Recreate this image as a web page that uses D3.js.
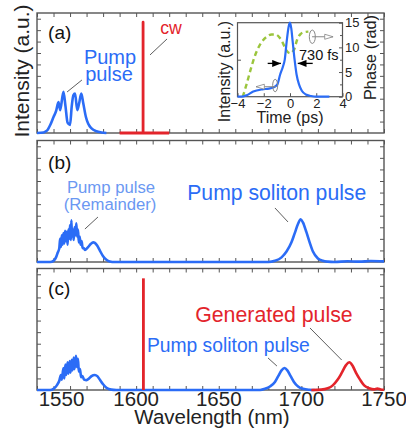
<!DOCTYPE html>
<html>
<head>
<meta charset="utf-8">
<script src="https://cdn.jsdelivr.net/npm/d3@7"></script>
<style>
body { margin: 0; background: #fff; }
svg text { font-family: "Liberation Sans", Arial, sans-serif; }
</style>
</head>
<body>
<div id="chart"></div>
<script>
// ---- data: wavelength (nm) and intensity (a.u.) ----
var aPumpWl = [1540, 1544, 1546, 1548, 1550, 1551.5, 1553, 1554, 1556, 1557.2, 1558.5, 1560, 1561, 1562, 1563, 1564.4, 1565.5, 1566.8, 1568, 1569.6, 1571, 1573, 1576, 1579, 1582];
var aPumpI  = [0, 0.05, 0.2, 0.7, 1.4, 1.9, 2.7, 2.0, 3.6, 2.4, 0.9, 0.7, 2.3, 3.3, 3.45, 2.0, 2.6, 3.45, 2.6, 1.4, 0.8, 0.4, 0.15, 0.05, 0];
var aCwWl = [1590, 1604.2, 1604.2, 1604.2, 1620];
var aCwI  = [0, 0, 9.7, 0, 0];

var bPumpWl = [1540, 1548, 1550, 1551.5, 1552.5, 1553.5, 1554, 1554.5, 1555, 1555.5, 1556, 1556.5, 1557, 1557.5, 1558, 1558.5, 1559, 1559.5, 1560, 1560.5, 1560.8, 1561.2, 1561.7, 1562.2, 1562.7, 1563.2, 1563.8, 1564.3, 1564.8, 1565.3, 1565.8, 1566.4, 1567, 1567.6, 1568.3, 1569, 1570, 1571, 1572.5, 1574, 1575, 1576.5, 1578, 1580, 1582, 1584, 1587,
               1680, 1684, 1688, 1691, 1694, 1696, 1698, 1699.6, 1701, 1703, 1705, 1707, 1710, 1713, 1716, 1720, 1728, 1735, 1742, 1750];
var bPumpI  = [0, 0, 0.1, 0.4, 0.8, 1.2, 2.0, 1.3, 2.3, 1.5, 2.5, 1.6, 2.7, 1.8, 2.6, 1.5, 2.8, 2.0, 3.2, 1.9, 3.6, 2.2, 2.8, 1.9, 3.0, 2.3, 3.35, 2.2, 2.8, 1.7, 2.2, 1.5, 1.8, 1.2, 1.2, 1.05, 1.15, 1.3, 1.55, 1.7, 1.65, 1.4, 1.0, 0.5, 0.2, 0.05, 0,
               0, 0.1, 0.4, 0.9, 1.7, 2.5, 3.3, 3.7, 3.4, 2.6, 1.7, 0.9, 0.3, 0.1, 0.03, 0, 0.06, 0.03, 0.08, 0.05];

var cPumpWl = [1540, 1548, 1550, 1552, 1553.5, 1554.5, 1555, 1556, 1556.5, 1557.2, 1557.7, 1558.5, 1559, 1559.8, 1560.3, 1561, 1561.5, 1562.2, 1562.7, 1563.6, 1564.1, 1564.8, 1565.3, 1566, 1566.7, 1567.5, 1568.5, 1570, 1571.5, 1573, 1575, 1576.5, 1578, 1580, 1582, 1585, 1588,
               1675, 1678, 1681, 1684, 1686, 1688, 1689.8, 1691.5, 1693.5, 1695.5, 1698, 1701, 1705, 1708];
var cPumpI  = [0, 0, 0.1, 0.4, 0.8, 1.3, 0.9, 1.9, 1.0, 2.2, 1.3, 2.4, 1.4, 2.5, 1.5, 2.6, 1.7, 2.8, 1.8, 2.95, 2.0, 2.7, 1.6, 1.8, 1.1, 1.2, 0.9, 0.85, 1.0, 1.2, 1.3, 1.2, 0.9, 0.5, 0.2, 0.03, 0,
               0, 0.1, 0.3, 0.7, 1.2, 1.7, 1.9, 1.7, 1.2, 0.7, 0.3, 0.1, 0.02, 0];
var cCwWl = [1604.4, 1604.4];
var cCwI  = [0, 9.65];
var cGenWl = [1706, 1712, 1716, 1719, 1722, 1724.5, 1727, 1729, 1731, 1733, 1735.5, 1738, 1741, 1744, 1746, 1748, 1750];
var cGenI  = [0, 0.03, 0.15, 0.4, 0.9, 1.5, 2.15, 2.4, 2.1, 1.5, 0.9, 0.4, 0.15, 0.05, 0.12, 0.05, 0.02];

// inset: time (ps), normalised intensity and phase (rad)
var insetT   = [-4, -3.7, -3.3, -2.8, -2.1, -1.6, -1.2, -0.95, -0.75, -0.55, -0.4, -0.25, -0.1, 0, 0.1, 0.2, 0.35, 0.5, 0.7, 0.9, 1.2, 1.6, 2, 3];
var insetInt = [0, 0, 0.02, 0.07, 0.1, 0.11, 0.13, 0.17, 0.3, 0.4, 0.5, 0.75, 0.95, 1.0, 0.92, 0.75, 0.5, 0.3, 0.16, 0.08, 0.03, 0.01, 0, 0];
var phaseT   = [-3.6, -3.3, -3.0, -2.6, -2.2, -1.8, -1.4, -1.1, -0.8, -0.55, -0.3, 0, 0.3, 0.55, 0.8, 1.1, 1.4];
var phaseRad = [0, 2.6, 5.5, 8.8, 10.9, 12.1, 12.6, 12.6, 12.0, 10.9, 9.5, 8.8, 9.5, 11.6, 12.7, 13.1, 13.2];

var wlLabels = [1550, 1600, 1650, 1700, 1750];
var wlMinor = d3.range(1540, 1751, 10);
var timeTicks = [-4, -2, 0, 2, 4];
var phaseTicks = [0, 5, 10, 15];

var blue = "#2b6cf6", lightBlue = "#6b98f2", red = "#e3242b", green = "#9bc53d", frame = "#555";

var svg = d3.select("#chart").append("svg")
        .attr("width", 406)
        .attr("height", 429);

var defs = svg.append("defs");
defs.append("marker").attr("id", "blackHead")
        .attr("viewBox", "0 0 10 8").attr("refX", 10).attr("refY", 4)
        .attr("markerUnits", "userSpaceOnUse").attr("markerWidth", 9).attr("markerHeight", 7)
        .attr("orient", "auto")
        .append("path").attr("d", "M0,0L10,4L0,8Z").attr("fill", "#000");
defs.append("marker").attr("id", "grayHead")
        .attr("viewBox", "0 0 12 8").attr("refX", 11).attr("refY", 4)
        .attr("markerUnits", "userSpaceOnUse").attr("markerWidth", 10).attr("markerHeight", 7)
        .attr("orient", "auto")
        .append("path").attr("d", "M1,1L11,4L1,7Z").attr("fill", "#fff").attr("stroke", "#888").attr("stroke-width", 1);

var x = d3.scaleLinear().domain([1540, 1750]).range([37, 384]);

var panels = [
    {top: 13, bottom: 133, label: "(a)",
        series: [{wl: aPumpWl, v: aPumpI, color: blue, smooth: true}, {wl: aCwWl, v: aCwI, color: red, smooth: false}],
        texts: [{t: "(a)", wl: 1546.7, v: 8.2, size: 19, color: "#111", anchor: "start"},
                {t: "Pump", wl: 1584.2, v: 6.05, size: 20, color: blue},
                {t: "pulse", wl: 1583.6, v: 4.55, size: 20, color: blue},
                {t: "cw", wl: 1621.1, v: 8.64, size: 17.7, color: red}],
        leaders: [[1558.2, 3.59, 1567.2, 4.64], [1608.4, 6.83, 1618.7, 8.23]]},
    {top: 140.5, bottom: 262, label: "(b)",
        series: [{wl: bPumpWl, v: bPumpI, color: blue, smooth: true}],
        texts: [{t: "(b)", wl: 1546.7, v: 8.0, size: 19, color: "#111", anchor: "start"},
                {t: "Pump pulse", wl: 1584.8, v: 5.99, size: 16.7, color: lightBlue},
                {t: "(Remainder)", wl: 1584.2, v: 4.49, size: 16.7, color: lightBlue},
                {t: "Pump soliton pulse", wl: 1685.1, v: 5.36, size: 21.2, color: blue}],
        leaders: [[1569.0, 2.85, 1576.9, 3.89], [1684.0, 4.67, 1691.9, 3.46]]},
    {top: 268.5, bottom: 390, label: "(c)",
        series: [{wl: cPumpWl, v: cPumpI, color: blue, smooth: true}, {wl: cGenWl, v: cGenI, color: red, smooth: true}, {wl: cCwWl, v: cCwI, color: red, smooth: false}],
        texts: [{t: "(c)", wl: 1546.7, v: 8.25, size: 19, color: "#111", anchor: "start"},
                {t: "Generated pulse", wl: 1683.4, v: 5.85, size: 21.3, color: red},
                {t: "Pump soliton pulse", wl: 1655.8, v: 3.31, size: 19.3, color: blue}],
        leaders: [[1705.2, 5.36, 1724.4, 2.59], [1679.8, 2.77, 1685.2, 2.07]]}
];

function styleAxis(g) {
    g.select(".domain").remove();
    g.selectAll(".tick line").attr("stroke", frame).attr("stroke-width", 1);
}

panels.forEach(function (p) {
    var y = d3.scaleLinear().domain([0, 10.5]).range([p.bottom, p.top]);
    var g = svg.append("g");

    g.append("rect")
            .attr("x", x.range()[0]).attr("y", p.top)
            .attr("width", x.range()[1] - x.range()[0]).attr("height", p.bottom - p.top)
            .attr("fill", "none").attr("stroke", frame).attr("stroke-width", 1.4);

    g.append("g").attr("transform", "translate(0," + p.bottom + ")")
            .call(d3.axisBottom(x).tickValues(wlMinor).tickSize(-4).tickFormat(""))
            .call(styleAxis);
    g.append("g").attr("transform", "translate(0," + p.top + ")")
            .call(d3.axisTop(x).tickValues(wlMinor).tickSize(-4).tickFormat(""))
            .call(styleAxis);
    g.append("g").attr("transform", "translate(" + x.range()[0] + ",0)")
            .call(d3.axisLeft(y).tickValues(d3.range(1, 11)).tickSize(-4).tickFormat(""))
            .call(styleAxis);
    g.append("g").attr("transform", "translate(" + x.range()[1] + ",0)")
            .call(d3.axisRight(y).tickValues(d3.range(1, 11)).tickSize(-4).tickFormat(""))
            .call(styleAxis);

    p.series.forEach(function (s) {
        var line = d3.line()
                .x(function (d) { return x(d[0]); })
                .y(function (d) { return y(d[1]); })
                .curve(s.smooth ? d3.curveMonotoneX : d3.curveLinear);
        g.append("path")
                .datum(d3.zip(s.wl, s.v))
                .attr("fill", "none")
                .attr("stroke", s.color)
                .attr("stroke-width", s.smooth ? 2.6 : 2.8)
                .attr("stroke-linejoin", "round")
                .attr("d", line);
    });

    p.leaders.forEach(function (l) {
        g.append("line")
                .attr("x1", x(l[0])).attr("y1", y(l[1]))
                .attr("x2", x(l[2])).attr("y2", y(l[3]))
                .attr("stroke", "#333").attr("stroke-width", 0.8);
    });

    p.texts.forEach(function (t) {
        g.append("text")
                .attr("x", x(t.wl)).attr("y", y(t.v))
                .attr("text-anchor", t.anchor || "middle")
                .attr("font-size", t.size)
                .attr("fill", t.color)
                .text(t.t);
    });
});

// wavelength labels and axis titles
svg.append("g").selectAll("text")
        .data(wlLabels)
        .enter().append("text")
        .attr("x", function (d, i) { return x(d) + (i === 0 ? 8 : 0); })
        .attr("y", 406)
        .attr("text-anchor", "middle")
        .attr("font-size", 20.5)
        .attr("fill", "#222")
        .text(function (d) { return d; });

svg.append("text")
        .attr("x", 212).attr("y", 423.5)
        .attr("text-anchor", "middle")
        .attr("font-size", 20.5)
        .attr("fill", "#222")
        .text("Wavelength (nm)");

svg.append("text")
        .attr("transform", "translate(29,71) rotate(-90)")
        .attr("text-anchor", "middle")
        .attr("font-size", 21)
        .attr("fill", "#222")
        .text("Intensity (a.u.)");

// ---- inset of panel (a) ----
var ix = d3.scaleLinear().domain([-4, 4]).range([237.5, 342.5]);
var iy = d3.scaleLinear().domain([0, 1]).range([96.7, 22.7]);
var py = d3.scaleLinear().domain([0, 15]).range([96.7, 22.7]);
var ins = svg.append("g");

ins.append("rect")
        .attr("x", 237.5).attr("y", 22.7)
        .attr("width", 105).attr("height", 74)
        .attr("fill", "#fff").attr("stroke", frame).attr("stroke-width", 1.2);

ins.append("g").attr("transform", "translate(0,96.7)")
        .call(d3.axisBottom(ix).tickValues(timeTicks).tickSize(-3.5).tickPadding(2.5))
        .call(styleAxis)
        .selectAll("text").attr("font-size", 13).attr("fill", "#222").attr("font-family", "Liberation Sans, Arial, sans-serif");
ins.append("g").attr("transform", "translate(342.5,0)")
        .call(d3.axisRight(py).tickValues(phaseTicks).tickSize(-3.5).tickPadding(2.5))
        .call(styleAxis)
        .selectAll("text").attr("font-size", 13).attr("fill", "#222").attr("font-family", "Liberation Sans, Arial, sans-serif");
ins.append("g").attr("transform", "translate(342.5,0)")
        .call(d3.axisRight(py).tickValues([2.5, 7.5, 12.5]).tickSize(-2.5).tickFormat(""))
        .call(styleAxis);
ins.append("g").attr("transform", "translate(237.5,0)")
        .call(d3.axisLeft(iy).tickValues([0.5]).tickSize(-3.5).tickFormat(""))
        .call(styleAxis);

ins.append("path")
        .datum(d3.zip(phaseT, phaseRad))
        .attr("fill", "none")
        .attr("stroke", green)
        .attr("stroke-width", 2.4)
        .attr("stroke-dasharray", "5,3.5")
        .attr("d", d3.line()
                .x(function (d) { return ix(d[0]); })
                .y(function (d) { return py(d[1]); })
                .curve(d3.curveMonotoneX));

ins.append("path")
        .datum(d3.zip(insetT, insetInt))
        .attr("fill", "none")
        .attr("stroke", blue)
        .attr("stroke-width", 2.2)
        .attr("d", d3.line()
                .x(function (d) { return ix(d[0]); })
                .y(function (d) { return iy(d[1]); })
                .curve(d3.curveMonotoneX));

// FWHM arrows
ins.append("line")
        .attr("x1", ix(-1.7)).attr("y1", iy(0.45)).attr("x2", ix(-0.69)).attr("y2", iy(0.45))
        .attr("stroke", "#000").attr("stroke-width", 1.3).attr("marker-end", "url(#blackHead)");
ins.append("line")
        .attr("x1", ix(1.73)).attr("y1", iy(0.45)).attr("x2", ix(0.59)).attr("y2", iy(0.45))
        .attr("stroke", "#000").attr("stroke-width", 1.3).attr("marker-end", "url(#blackHead)");
ins.append("text")
        .attr("x", ix(0.69)).attr("y", iy(0.496))
        .attr("font-size", 14.5).attr("fill", "#111")
        .text("730 fs");

// axis-indicating loops
ins.append("ellipse")
        .attr("cx", ix(-1.13)).attr("cy", iy(0.151)).attr("rx", 2.5).attr("ry", 6.2)
        .attr("fill", "none").attr("stroke", "#888").attr("stroke-width", 1);
ins.append("line")
        .attr("x1", ix(-1.07)).attr("y1", iy(0.135)).attr("x2", ix(-2.59)).attr("y2", iy(0.135))
        .attr("stroke", "#888").attr("stroke-width", 1).attr("marker-end", "url(#grayHead)");
ins.append("ellipse")
        .attr("cx", ix(1.7)).attr("cy", iy(0.81)).attr("rx", 3).attr("ry", 6.7)
        .attr("fill", "none").attr("stroke", "#888").attr("stroke-width", 1);
ins.append("line")
        .attr("x1", ix(1.68)).attr("y1", iy(0.81)).attr("x2", ix(3.28)).attr("y2", iy(0.81))
        .attr("stroke", "#888").attr("stroke-width", 1).attr("marker-end", "url(#grayHead)");

ins.append("text")
        .attr("x", 290).attr("y", 123)
        .attr("text-anchor", "middle").attr("font-size", 16).attr("fill", "#222")
        .text("Time (ps)");
ins.append("text")
        .attr("transform", "translate(230,71.5) rotate(-90)")
        .attr("text-anchor", "middle").attr("font-size", 16).attr("fill", "#222")
        .text("Intensity (a.u.)");
ins.append("text")
        .attr("transform", "translate(376,57.5) rotate(-90)")
        .attr("text-anchor", "middle").attr("font-size", 16.3).attr("fill", "#222")
        .text("Phase (rad)");
</script>
</body>
</html>
